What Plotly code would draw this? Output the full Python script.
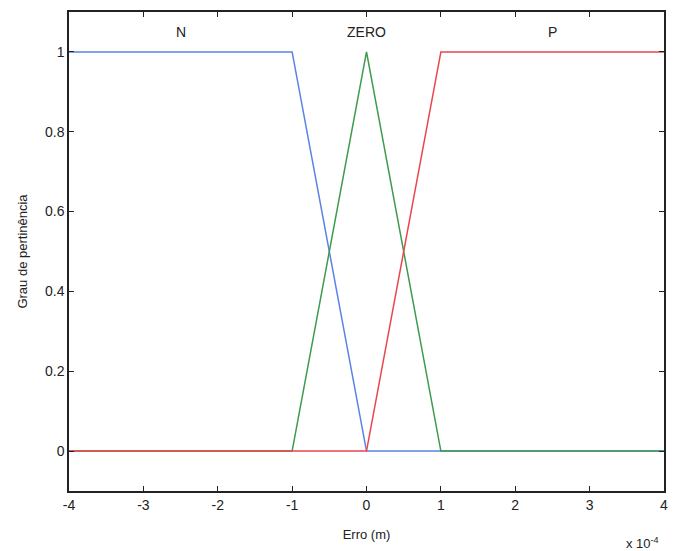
import plotly.graph_objects as go

scale = 1e-4
n_x = [-4, -1, 0, 4]
n_y = [1, 1, 0, 0]
z_x = [-4, -1, 0, 1, 4]
z_y = [0, 0, 1, 0, 0]
p_x = [-4, 0, 1, 4]
p_y = [0, 0, 1, 1]
x_ticks = [-4, -3, -2, -1, 0, 1, 2, 3, 4]
y_ticks = [0, 0.2, 0.4, 0.6, 0.8, 1]
y_tick_text = ["0", "0.2", "0.4", "0.6", "0.8", "1"]
labels = ["N", "ZERO", "P"]
label_x = [-2.5, 0, 2.5]

fig = go.Figure()
fig.add_trace(go.Scatter(x=[v * scale for v in n_x], y=n_y, mode="lines",
                         line=dict(color="#5a82e6", width=1.5), name="N"))
fig.add_trace(go.Scatter(x=[v * scale for v in z_x], y=z_y, mode="lines",
                         line=dict(color="#3f9a4e", width=1.5), name="ZERO"))
fig.add_trace(go.Scatter(x=[v * scale for v in p_x], y=p_y, mode="lines",
                         line=dict(color="#e8464a", width=1.5), name="P"))

for t, lx in zip(labels, label_x):
    fig.add_annotation(x=lx * scale, y=1.05, text=t, showarrow=False,
                       font=dict(size=14, color="#222"))

fig.add_annotation(x=0.995, xref="paper", y=-0.108, yref="paper", xanchor="right",
                   yanchor="middle", text="x 10<sup>-4</sup>", showarrow=False,
                   font=dict(size=13, color="#222"))

axis_common = dict(showgrid=False, zeroline=False, showline=True, linecolor="#222",
                   linewidth=1.5, mirror="ticks", ticks="inside", ticklen=5,
                   tickcolor="#222", tickfont=dict(size=14, color="#222"))

fig.update_layout(
    width=674, height=551,
    margin=dict(l=69, r=6, t=12, b=60),
    paper_bgcolor="white", plot_bgcolor="white",
    showlegend=False,
    font=dict(family="Liberation Sans, Arial, sans-serif", color="#222"),
    xaxis=dict(range=[-4 * scale, 4 * scale], tickvals=[v * scale for v in x_ticks],
               ticktext=[str(v) for v in x_ticks],
               title=dict(text="Erro (m)", font=dict(size=13), standoff=18), **axis_common),
    yaxis=dict(range=[-0.1, 1.1], tickvals=y_ticks, ticktext=y_tick_text,
               title=dict(text="Grau de pertinência", font=dict(size=13), standoff=14),
               **axis_common),
)

fig.write_html("out.html")
